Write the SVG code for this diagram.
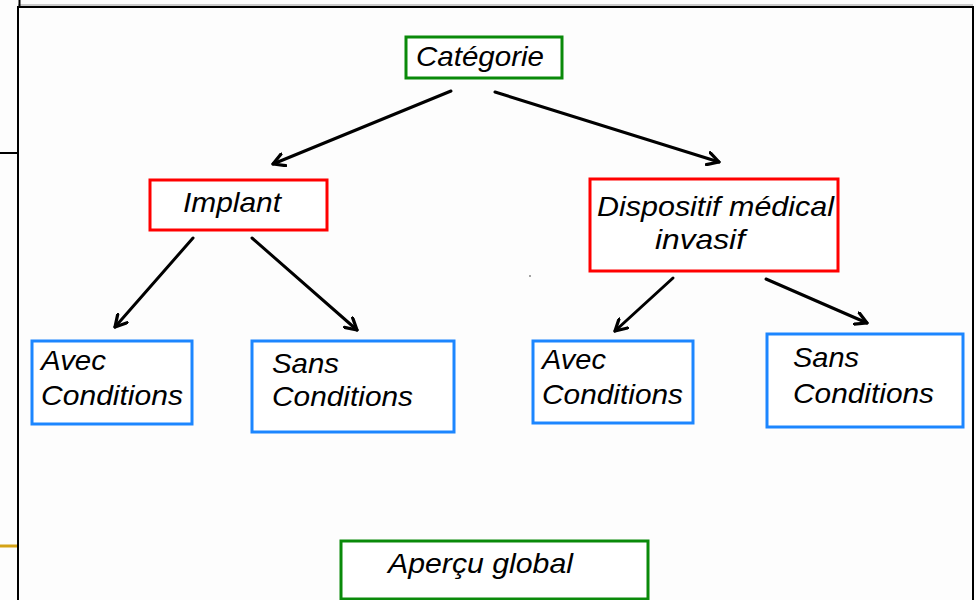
<svg xmlns="http://www.w3.org/2000/svg" width="976" height="600" viewBox="0 0 976 600">
<style>
.t{font-family:"Liberation Sans",Arial,sans-serif;font-style:italic;font-size:28px;fill:#000}
.g{fill:#fff;stroke:#0a8a0a;stroke-width:3}
.r{fill:#fff;stroke:#ff0000;stroke-width:3}
.b{fill:#fff;stroke:#1c86ff;stroke-width:3}
.c{stroke:#000;stroke-width:3;fill:none;stroke-linecap:round;marker-end:url(#ah)}
.f{stroke:#000;stroke-width:2;fill:none}
</style>
<defs>
<marker id="ah" viewBox="0 0 12 12" refX="10" refY="6" markerWidth="5" markerHeight="5" orient="auto" markerUnits="strokeWidth">
<path d="M1,1 L10,6 L1,11" fill="none" stroke="#000" stroke-width="2.6" stroke-linecap="round" stroke-linejoin="round"/>
</marker>
</defs>
<rect width="976" height="600" fill="#fdfdfd"/>
<g id="frame">
<line x1="18" y1="5" x2="973" y2="5" stroke="#999" stroke-width="1"/>
<path class="f" d="M18,600 L18,7 L973,7 L973,600"/>
<line class="f" x1="19.5" y1="0" x2="19.5" y2="6"/>
<line class="f" x1="0" y1="153" x2="18" y2="153"/>
<line x1="0" y1="546" x2="17" y2="546" stroke="#d4a317" stroke-width="3"/>
<circle cx="530" cy="276" r="0.8" fill="#333"/>
</g>
<g id="connectors">
<line class="c" x1="451" y1="91" x2="273" y2="164"/>
<line class="c" x1="495" y1="92" x2="719" y2="162"/>
<line class="c" x1="193" y1="238" x2="115" y2="327"/>
<line class="c" x1="252" y1="238" x2="357" y2="330"/>
<line class="c" x1="673" y1="278" x2="615" y2="331"/>
<line class="c" x1="766" y1="279" x2="867" y2="323"/>
</g>
<g id="categorie">
<rect class="g" x="406" y="37" width="156" height="41"/>
<text class="t" x="416" y="66" textLength="128" lengthAdjust="spacingAndGlyphs">Catégorie</text>
</g>
<g id="implant">
<rect class="r" x="150" y="180" width="177" height="50"/>
<text class="t" x="183" y="212" textLength="98" lengthAdjust="spacingAndGlyphs">Implant</text>
</g>
<g id="dispositif">
<rect class="r" x="590" y="179" width="248" height="92"/>
<text class="t" x="597" y="216" textLength="237" lengthAdjust="spacingAndGlyphs">Dispositif médical</text>
<text class="t" x="655" y="249" textLength="90" lengthAdjust="spacingAndGlyphs">invasif</text>
</g>
<g id="avec1">
<rect class="b" x="32" y="341" width="160" height="83"/>
<text class="t" x="41" y="370" textLength="65" lengthAdjust="spacingAndGlyphs">Avec</text>
<text class="t" x="41" y="405" textLength="142" lengthAdjust="spacingAndGlyphs">Conditions</text>
</g>
<g id="sans1">
<rect class="b" x="252" y="341" width="202" height="91"/>
<text class="t" x="272" y="373" textLength="67" lengthAdjust="spacingAndGlyphs">Sans</text>
<text class="t" x="272" y="406" textLength="141" lengthAdjust="spacingAndGlyphs">Conditions</text>
</g>
<g id="avec2">
<rect class="b" x="533" y="341" width="160" height="82"/>
<text class="t" x="542" y="369" textLength="64" lengthAdjust="spacingAndGlyphs">Avec</text>
<text class="t" x="542" y="404" textLength="141" lengthAdjust="spacingAndGlyphs">Conditions</text>
</g>
<g id="sans2">
<rect class="b" x="767" y="334" width="196" height="93"/>
<text class="t" x="793" y="367" textLength="66" lengthAdjust="spacingAndGlyphs">Sans</text>
<text class="t" x="793" y="403" textLength="141" lengthAdjust="spacingAndGlyphs">Conditions</text>
</g>
<g id="apercu">
<rect class="g" x="341" y="541" width="307" height="58"/>
<text class="t" x="388" y="573" textLength="185" lengthAdjust="spacingAndGlyphs">Aperçu global</text>
</g>
</svg>
